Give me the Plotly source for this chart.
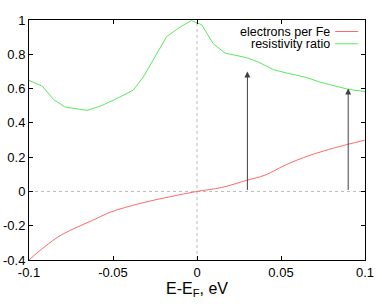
import plotly.graph_objects as go

# Data
res_x = [-0.1, -0.092, -0.0855, -0.0785, -0.0655, -0.0577, -0.05, -0.038, -0.032, -0.025,
         -0.018, -0.0101, -0.0033, 0.0028, 0.0097, 0.0167, 0.0296, 0.0365, 0.0456, 0.0536,
         0.0643, 0.0732, 0.0813, 0.0903, 0.1]
res_y = [0.648, 0.613, 0.537, 0.492, 0.473, 0.497, 0.531, 0.59, 0.667, 0.784,
         0.904, 0.958, 0.997, 0.972, 0.861, 0.807, 0.78, 0.755, 0.71, 0.69,
         0.667, 0.638, 0.619, 0.595, 0.583]

el_x = [-0.1, -0.0906, -0.0808, -0.0708, -0.0609, -0.0518, -0.0339, -0.0161, 0.0, 0.0147,
        0.03, 0.0405, 0.0524, 0.0673, 0.0891, 0.1]
el_y = [-0.4, -0.322, -0.254, -0.206, -0.163, -0.122, -0.07, -0.031, 0.0, 0.023,
        0.066, 0.095, 0.153, 0.211, 0.273, 0.299]

arrow_x = [0.03, 0.09]
arrow_top = [0.70, 0.60]

x_ticks = [-0.1, -0.05, 0, 0.05, 0.1]
x_ticklabels = ["-0.1", "-0.05", "0", "0.05", "0.1"]
y_ticks = [-0.4, -0.2, 0, 0.2, 0.4, 0.6, 0.8, 1]
y_ticklabels = ["-0.4", "-0.2", "0", "0.2", "0.4", "0.6", "0.8", "1"]

series_names = ["electrons per Fe", "resistivity ratio"]
red = "#ff6a6a"
green = "#5ee85e"

fig = go.Figure()
fig.add_trace(go.Scatter(x=el_x, y=el_y, mode="lines", line=dict(color=red, width=1),
                         name=series_names[0], showlegend=False, line_shape="spline"))
fig.add_trace(go.Scatter(x=res_x, y=res_y, mode="lines", line=dict(color=green, width=1),
                         name=series_names[1], showlegend=False))

shapes = [
    dict(type="line", xref="x", yref="paper", x0=0, x1=0, y0=0, y1=1,
         line=dict(color="#bbbbbb", width=1, dash="dot"), layer="below"),
    dict(type="line", xref="paper", yref="y", x0=0, x1=1, y0=0, y1=0,
         line=dict(color="#bbbbbb", width=1, dash="dot"), layer="below"),
]

annotations = []
for ax_, top in zip(arrow_x, arrow_top):
    annotations.append(dict(x=ax_, y=top, ax=ax_, ay=0, xref="x", yref="y",
                            axref="x", ayref="y", showarrow=True, arrowhead=2,
                            arrowsize=1.2, arrowwidth=1, arrowcolor="#404040", text=""))

# Legend (text right-aligned, sample on the right, like gnuplot)
leg_y = [0.952, 0.901]
for name, col, yy in zip(series_names, [red, green], leg_y):
    annotations.append(dict(x=0.899, y=yy, xref="paper", yref="paper", text=name,
                            showarrow=False, xanchor="right", yanchor="middle",
                            font=dict(size=12.5, color="black"), borderpad=0))
    shapes.append(dict(type="line", xref="paper", yref="paper", x0=0.911, x1=0.98,
                       y0=yy, y1=yy, line=dict(color=col, width=1)))

fig.update_layout(
    width=382, height=306,
    margin=dict(l=29, r=17, t=20, b=46, autoexpand=False),
    paper_bgcolor="white", plot_bgcolor="white",
    font=dict(family="Liberation Sans, Arial, sans-serif", size=13, color="black"),
    shapes=shapes, annotations=annotations,
    showlegend=False,
)
fig.update_xaxes(range=[-0.1, 0.1], tickvals=x_ticks, ticktext=x_ticklabels,
                 ticks="inside", ticklen=4, tickcolor="black", showline=True,
                 linecolor="black", linewidth=1, mirror="ticks", showgrid=False,
                 zeroline=False, automargin=False,
                 title=dict(text="E-E<sub>F</sub>, eV", standoff=2),
                 tickfont=dict(size=13))
fig.update_yaxes(range=[-0.4, 1], tickvals=y_ticks, ticktext=y_ticklabels,
                 ticks="inside", ticklen=4, tickcolor="black", showline=True,
                 linecolor="black", linewidth=1, mirror="ticks", showgrid=False,
                 zeroline=False, automargin=False, tickfont=dict(size=13))

fig.write_html("out.html", config={"displayModeBar": False},
               post_script="document.body.style.margin='0';document.body.style.overflow='hidden';")
